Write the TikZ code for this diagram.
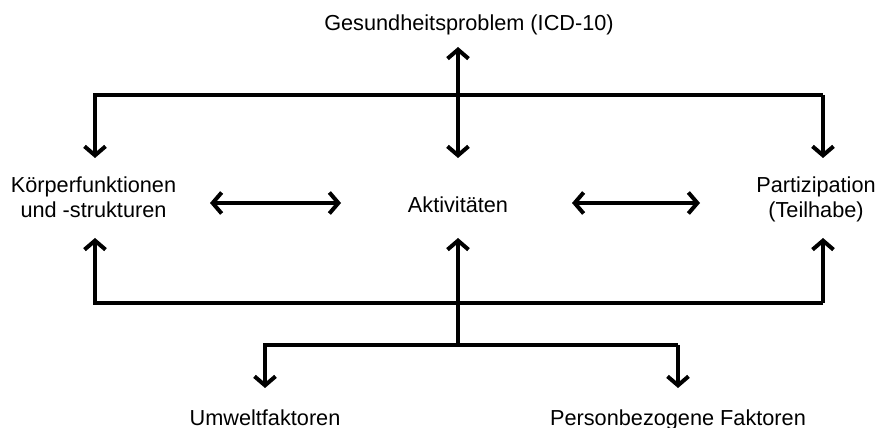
\documentclass[tikz,border=0pt]{standalone}
\usepackage{fontspec}
\setmainfont{Liberation Sans}
\usetikzlibrary{arrows.meta}
\begin{document}
\begin{tikzpicture}[>={Straight Barb[length=9bp,width=21bp]},line join=miter,line width=4bp,
  every node/.style={font=\fontsize{21.7bp}{25bp}\selectfont,align=center,inner sep=0pt,anchor=base}]
%%
\useasboundingbox (0bp,0bp) rectangle (882bp,428bp);
\node (node_gesund) at (469.0bp,397.0bp) {Gesundheitsproblem (ICD-10)};
  \node (node_koerper) at (93.5bp,210.0bp) {Körperfunktionen\\und -strukturen};
  \node (node_aktiv) at (458.0bp,215.0bp) {Aktivitäten};
  \node (node_partiz) at (816.0bp,210.0bp) {Partizipation\\(Teilhabe)};
  \node (node_umwelt) at (265.0bp,3.0bp) {Umweltfaktoren};
  \node (node_person) at (678.0bp,3.0bp) {Personbezogene Faktoren};
%%
  \coordinate (top_l) at (95.0bp,333.0bp);
  \coordinate (top_r) at (823.0bp,333.0bp);
  \coordinate (top_tip) at (458.0bp,381.0bp);
  \coordinate (mid_tip) at (458.0bp,270.0bp);
  \coordinate (bot_l) at (95.0bp,125.0bp);
  \coordinate (bot_r) at (823.0bp,125.0bp);
  \coordinate (fork) at (458.0bp,83.0bp);
  \coordinate (fork_l) at (265.0bp,83.0bp);
  \coordinate (fork_r) at (678.0bp,83.0bp);
%%
  \draw [black,<->] (top_tip) -- (mid_tip);
  \draw [black,->] (top_r) -- (top_l) -- (top_l |- mid_tip);
  \draw [black,->] (top_r) -- (top_r |- mid_tip);
  \draw [black,<->] (210bp,225bp) -- (341bp,225bp);
  \draw [black,<->] (572bp,225bp) -- (700bp,225bp);
  \draw [black,->] (bot_r) -- (bot_l) -- (bot_l |- 0,190bp);
  \draw [black,->] (bot_r) -- (bot_r |- 0,190bp);
  \draw [black,->] (fork) -- (fork |- 0,190bp);
  \draw [black,->] (fork_r) -- (fork_l) -- (fork_l |- 0,40bp);
  \draw [black,->] (fork_r) -- (fork_r |- 0,40bp);
%
\end{tikzpicture}
\end{document}
